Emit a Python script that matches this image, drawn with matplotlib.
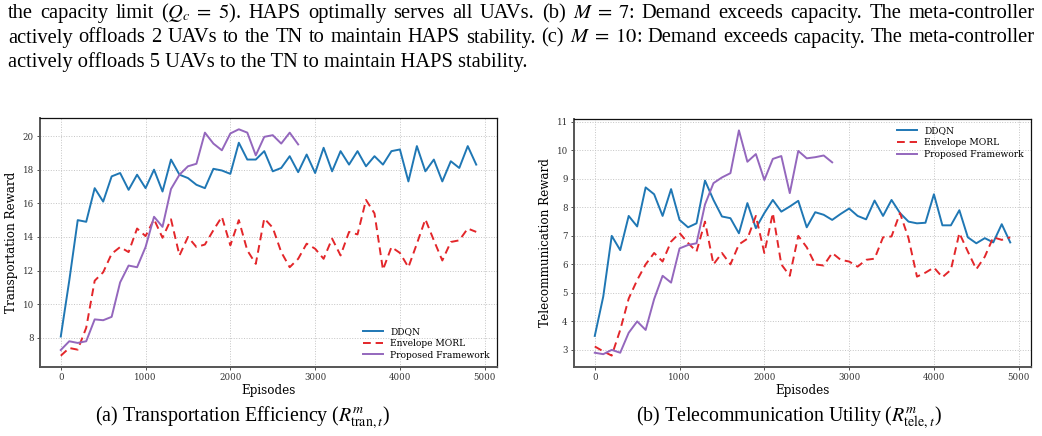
import matplotlib
matplotlib.use("Agg")
import matplotlib.pyplot as plt

# ---------------- data ----------------
episodes = list(range(0, 5000, 100))
episodes_prop = list(range(0, 2900, 100))

tran_ddqn = [8.08, 11.4, 15.0, 14.9, 16.9, 16.1, 17.6, 17.8, 16.8, 17.7,
             16.9, 18.0, 16.7, 18.6, 17.7, 17.5, 17.1, 16.9, 18.05, 17.95,
             17.75, 19.6, 18.6, 18.6, 19.1, 17.9, 18.1, 18.8, 17.85, 18.9,
             17.8, 19.3, 17.9, 19.1, 18.3, 19.1, 18.2, 18.8, 18.3, 19.1,
             19.2, 17.3, 19.4, 17.9, 18.6, 17.3, 18.5, 18.1, 19.4, 18.3]
tran_env = [6.94, 7.4, 7.3, 8.6, 11.4, 11.9, 13.0, 13.4, 13.1, 14.5,
            14.05, 15.05, 13.95, 15.05, 12.9, 14.0, 13.4, 13.55, 14.4, 15.2,
            13.5, 15.0, 13.2, 12.4, 15.1, 14.55, 13.1, 12.2, 12.7, 13.6,
            13.3, 12.7, 13.9, 12.9, 14.3, 14.15, 16.2, 15.4, 12.05, 13.4,
            13.05, 12.2, 13.6, 15.05, 13.8, 12.6, 13.7, 13.8, 14.5, 14.3]
tran_prop = [7.28, 7.8, 7.7, 7.8, 9.1, 9.05, 9.25, 11.3, 12.3, 12.2,
             13.4, 15.2, 14.6, 16.85, 17.7, 18.2, 18.35, 20.2, 19.55, 19.15,
             20.15, 20.4, 20.2, 18.85, 19.95, 20.05, 19.55, 20.2, 19.5]

tele_ddqn = [3.49, 4.87, 7.0, 6.5, 7.7, 7.33, 8.7, 8.46, 7.7, 8.64,
             7.56, 7.3, 7.44, 8.94, 8.26, 7.68, 7.62, 7.09, 8.15, 7.27,
             7.8, 8.26, 7.85, 8.03, 8.23, 7.3, 7.83, 7.74, 7.56, 7.77,
             7.96, 7.7, 7.58, 8.24, 7.7, 8.26, 7.8, 7.5, 7.44, 7.46,
             8.46, 7.37, 7.37, 7.9, 6.95, 6.74, 6.92, 6.77, 7.41, 6.77]
tele_env = [3.12, 2.95, 2.8, 3.7, 4.8, 5.45, 6.0, 6.4, 6.1, 6.8,
            7.1, 6.75, 6.45, 7.5, 6.0, 6.4, 6.0, 6.7, 6.9, 7.7,
            6.4, 7.8, 6.0, 5.6, 7.0, 6.6, 6.0, 5.96, 6.4, 6.16,
            6.1, 5.92, 6.16, 6.2, 6.95, 6.98, 7.8, 6.92, 5.57, 5.71,
            5.89, 5.55, 5.81, 7.1, 6.45, 5.83, 6.27, 6.95, 6.86, 6.95]
tele_prop = [2.9, 2.85, 3.0, 2.9, 3.6, 4.0, 3.7, 4.78, 5.6, 5.36,
             6.56, 6.68, 6.74, 8.1, 8.85, 9.05, 9.2, 10.7, 9.6, 9.87,
             8.96, 9.7, 9.8, 8.5, 9.98, 9.72, 9.76, 9.82, 9.58]

series_labels = ["DDQN", "Envelope MORL", "Proposed Framework"]
xlabel = "Episodes"
ylabels = ["Transportation Reward", "Telecommunication Reward"]
subcaptions = [r"(a) Transportation Efficiency ($R^{m}_{\mathrm{tran},t}$)",
               r"(b) Telecommunication Utility ($R^{m}_{\mathrm{tele},t}$)"]
top_lines = [
    r"the capacity limit ($Q_c\;=\;5$). HAPS optimally serves all UAVs. (b) $M\;=\;7$: Demand exceeds capacity. The meta-controller",
    r"actively offloads 2 UAVs to the TN to maintain HAPS stability. (c) $M\;=\;10$: Demand exceeds capacity. The meta-controller",
    r"actively offloads 5 UAVs to the TN to maintain HAPS stability.",
]

# ---------------- style ----------------
plt.rcParams["font.family"] = "DejaVu Serif"
plt.rcParams["mathtext.fontset"] = "stix"

W, H = 1042, 436
fig = plt.figure(figsize=(W / 100, H / 100), dpi=100)
fig.patch.set_facecolor("white")

c_ddqn = "#1f77b4"
c_env = "#e3262a"
c_prop = "#9467bd"


def ax_at(x0, y0, x1, y1):
    return fig.add_axes([x0 / W, 1 - y1 / H, (x1 - x0) / W, (y1 - y0) / H])


ax1 = ax_at(40, 118, 497, 367)
ax2 = ax_at(574, 119, 1031, 367)

for ax, d, e, p, yl in [(ax1, tran_ddqn, tran_env, tran_prop, ylabels[0]),
                        (ax2, tele_ddqn, tele_env, tele_prop, ylabels[1])]:
    ax.plot(episodes, d, color=c_ddqn, lw=1.4, label=series_labels[0])
    ax.plot(episodes, e, color=c_env, lw=1.4, ls=(0, (4, 2.5)), label=series_labels[1])
    ax.plot(episodes_prop, p, color=c_prop, lw=1.4, label=series_labels[2])
    ax.set_xlim(-245, 5145)
    ax.set_xticks([0, 1000, 2000, 3000, 4000, 5000])
    ax.grid(True, ls=":", color="#c4c4c4", lw=0.7)
    ax.tick_params(labelsize=6.2, length=2.5, width=0.6, pad=2, colors="#333333")
    ax.set_xlabel(xlabel, fontsize=8.6, labelpad=1)
    ax.set_ylabel(yl, fontsize=8.6, labelpad=3)
    for s in ["left", "bottom"]:
        ax.spines[s].set_color("#555555")
        ax.spines[s].set_linewidth(1.4)
    for s in ["top", "right"]:
        ax.spines[s].set_color("#111111")
        ax.spines[s].set_linewidth(0.9)

ax1.set_ylim(6.27, 21.07)
ax1.set_yticks([8, 10, 12, 14, 16, 18, 20])
ax2.set_ylim(2.4, 11.1)
ax2.set_yticks([3, 4, 5, 6, 7, 8, 9, 10, 11])

ax1.legend(loc="lower right", frameon=False, fontsize=6.6, handlelength=2.2,
           borderaxespad=0.4, labelspacing=0.3)
ax2.legend(loc="upper right", frameon=False, fontsize=6.6, handlelength=2.2,
           borderaxespad=0.4, labelspacing=0.3)

# ---------------- page text ----------------
serif = "Liberation Serif"
fig.canvas.draw()
r = fig.canvas.get_renderer()

probe = fig.text(0, 0, top_lines[2], fontsize=14, family=serif)
w = probe.get_window_extent(r).width
probe.remove()
body_size = 14 * 522 / w

x_left, x_right = 8, 1035
baselines = [18, 42.5, 67]
for i, line in enumerate(top_lines):
    if i < 2:
        words = line.split(" ")
        texts = [fig.text(0, 0, wd, fontsize=body_size, family=serif, va="baseline") for wd in words]
        fig.canvas.draw()
        widths = [t.get_window_extent(r).width for t in texts]
        gap = (x_right - x_left - sum(widths)) / (len(words) - 1)
        x = x_left
        for t, wd in zip(texts, widths):
            t.set_position((x / W, 1 - baselines[i] / H))
            x += wd + gap
    else:
        fig.text(x_left / W, 1 - baselines[i] / H, line, fontsize=body_size,
                 family=serif, va="baseline")

cap_size = body_size * 0.97
fig.text(243 / W, 1 - 418 / H, subcaptions[0], fontsize=cap_size, family=serif,
         ha="center", va="center")
fig.text(789 / W, 1 - 418 / H, subcaptions[1], fontsize=cap_size, family=serif,
         ha="center", va="center")

fig.savefig("out.png", dpi=100, facecolor="white")
